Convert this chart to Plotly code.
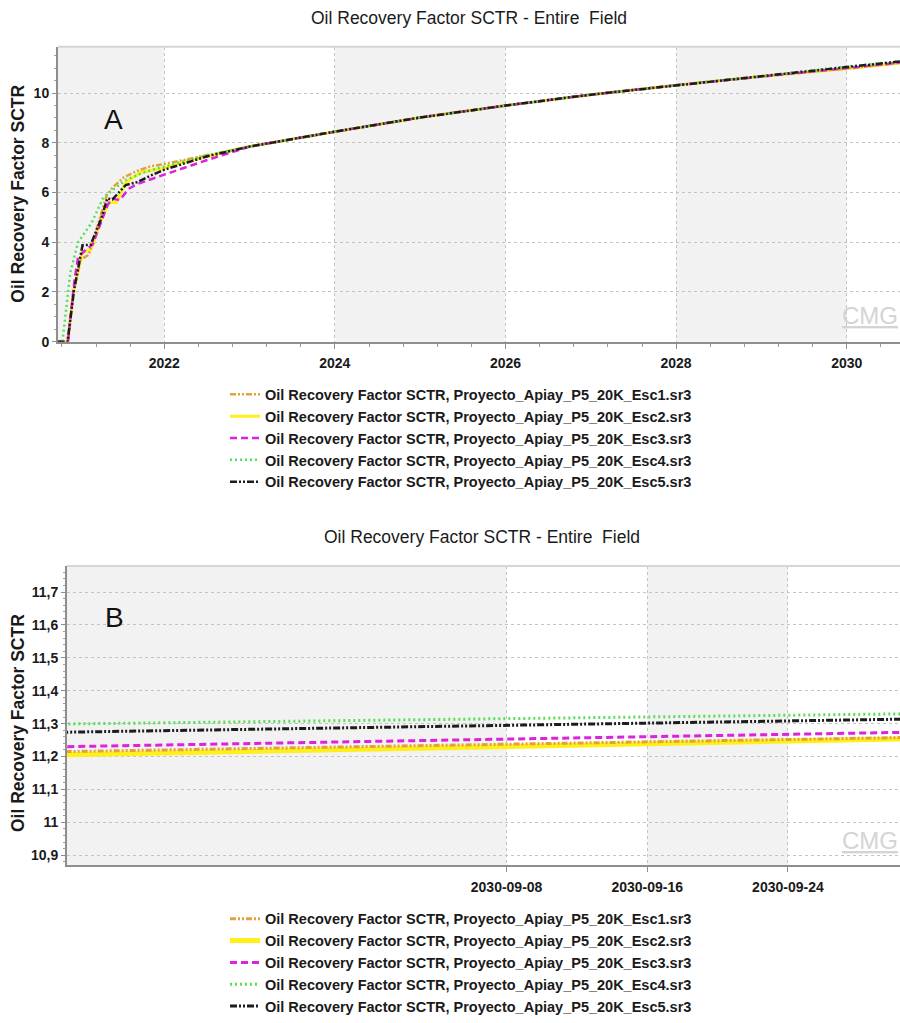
import plotly.graph_objects as go

W, H = 900, 1023

# ---- series data: Oil Recovery Factor SCTR (%), five scenarios ----
scenario_names = [
    "Oil Recovery Factor SCTR, Proyecto_Apiay_P5_20K_Esc1.sr3",
    "Oil Recovery Factor SCTR, Proyecto_Apiay_P5_20K_Esc2.sr3",
    "Oil Recovery Factor SCTR, Proyecto_Apiay_P5_20K_Esc3.sr3",
    "Oil Recovery Factor SCTR, Proyecto_Apiay_P5_20K_Esc4.sr3",
    "Oil Recovery Factor SCTR, Proyecto_Apiay_P5_20K_Esc5.sr3",
]

# start-up period (2020-2022), per scenario
esc1_early_dates = ["2020-10-01", "2020-11-12", "2020-12-08", "2021-01-08", "2021-02-12",
                    "2021-03-20", "2021-04-30", "2021-05-25", "2021-07-10", "2021-09-01",
                    "2021-11-01", "2022-01-01", "2022-07-01"]
esc1_early_vals = [0, 0, 2.0, 3.3, 3.5, 4.6, 5.9, 6.2, 6.6, 6.85, 7.05, 7.15, 7.5]

esc2_early_dates = ["2020-10-01", "2020-11-14", "2020-12-10", "2021-01-15", "2021-02-20",
                    "2021-03-01", "2021-04-10", "2021-05-10", "2021-06-10", "2021-07-20",
                    "2021-09-20", "2022-01-01", "2022-07-01"]
esc2_early_vals = [0, 0, 2.1, 3.6, 3.7, 3.9, 5.0, 5.6, 5.6, 6.4, 6.8, 7.0, 7.45]

esc3_early_dates = ["2020-10-01", "2020-11-15", "2020-12-13", "2020-12-28", "2021-02-05",
                    "2021-02-28", "2021-05-03", "2021-05-24", "2021-06-25", "2021-08-01",
                    "2021-09-10", "2021-12-15", "2022-01-01", "2022-07-01"]
esc3_early_vals = [0, 0, 2.5, 3.4, 3.75, 3.9, 5.5, 5.75, 5.7, 6.15, 6.35, 6.65, 6.72, 7.3]

esc4_early_dates = ["2020-10-01", "2020-10-22", "2020-11-25", "2020-12-28", "2021-02-25",
                    "2021-04-15", "2021-05-25", "2021-07-20", "2021-10-01", "2022-01-01",
                    "2022-07-01"]
esc4_early_vals = [0, 0, 2.8, 4.0, 4.8, 5.8, 6.1, 6.5, 6.8, 7.05, 7.5]

esc5_early_dates = ["2020-10-01", "2020-11-13", "2020-12-10", "2021-01-16", "2021-02-20",
                    "2021-04-04", "2021-05-02", "2021-05-24", "2021-06-20", "2021-07-20",
                    "2021-09-08", "2021-11-03", "2022-01-01", "2022-07-01"]
esc5_early_vals = [0, 0, 2.04, 3.88, 3.9, 4.9, 5.76, 5.72, 6.0, 6.3, 6.42, 6.68, 6.92, 7.45]

# common long-term trend (scenarios overlap)
tail_dates = ["2023-01-01", "2024-01-01", "2025-01-01", "2026-01-01",
              "2027-01-01", "2028-01-01", "2029-01-01"]
tail_vals = [7.85, 8.45, 9.02, 9.50, 9.94, 10.32, 10.68]

# end of forecast, per scenario
end_dates = ["2030-01-01", "2030-08-14", "2030-10-01"]
esc1_end_vals = [10.99, 11.215, 11.258]
esc2_end_vals = [10.98, 11.205, 11.254]
esc3_end_vals = [11.01, 11.230, 11.274]
esc4_end_vals = [11.07, 11.299, 11.330]
esc5_end_vals = [11.05, 11.274, 11.314]

# ---- styles ----
colors = ["#e3a13c", "#fff01a", "#dd22dd", "#55e055", "#1c1c1c"]
dashes = ["6px,2px,2px,2px,2px,2px", "solid", "7px,4px", "2px,3px", "7px,2px,2px,2px,2px,2px"]
width_top = [2.5, 3, 2.5, 2.5, 2.5]
width_bot = [3, 5, 3, 3, 3]

early = [(esc1_early_dates, esc1_early_vals), (esc2_early_dates, esc2_early_vals),
         (esc3_early_dates, esc3_early_vals), (esc4_early_dates, esc4_early_vals),
         (esc5_early_dates, esc5_early_vals)]
ends = [esc1_end_vals, esc2_end_vals, esc3_end_vals, esc4_end_vals, esc5_end_vals]

series = []
for (d, v), e in zip(early, ends):
    series.append((d + tail_dates + end_dates, v + tail_vals + e))

FONT = "Liberation Sans, Arial, sans-serif"
NARROW = "Liberation Sans Narrow, Liberation Sans, Arial, sans-serif"

fig = go.Figure()

# draw order: yellow band first so the dotted/dashed lines stay visible on top
draw_order = [1, 0, 2, 3, 4]
for panel, (xa, ya, leg, widths) in enumerate([("x", "y", "legend", width_top),
                                                ("x2", "y2", "legend2", width_bot)]):
    for i in draw_order:
        x, y = series[i]
        fig.add_trace(go.Scatter(
            x=x, y=y, mode="lines", name=scenario_names[i],
            xaxis=xa, yaxis=ya, legend=leg,
            legendgroup=f"p{panel}s{i}", legendrank=i + 1,
            line=dict(color=colors[i], width=widths[i], dash=dashes[i]),
            showlegend=True,
        ))


def px_x(p):
    return p / W


def px_y(p):
    return 1 - p / H


top_dom_y = [px_y(344), px_y(47)]
bot_dom_y = [px_y(871), px_y(570)]

tickfont = dict(family=FONT, size=14, color="#1a1a1a", weight="bold")
grid = dict(showgrid=True, gridcolor="#c4c4c4", griddash="dot", gridwidth=1)
axline = dict(showline=True, linecolor="#8e8e8e", linewidth=2, zeroline=False)

legend_font = dict(family=FONT, size=14.5, color="#1a1a1a", weight="bold")

fig.update_layout(
    width=W, height=H,
    margin=dict(l=0, r=0, t=0, b=0),
    paper_bgcolor="white", plot_bgcolor="white",
    separators=",.",
    showlegend=True,
    xaxis=dict(
        domain=[px_x(58), 1], anchor="y", type="date",
        range=["2020-10-03", "2030-08-17"],
        tickvals=["2022-01-01", "2024-01-01", "2026-01-01", "2028-01-01", "2030-01-01"],
        tickformat="%Y", ticks="outside", ticklen=5, tickcolor="#8e8e8e",
        ticklabelstandoff=3,
        minor=dict(ticks="outside", ticklen=3, tickcolor="#9a9a9a",
                   tick0="2022-01-01", dtick=146.1 * 86400000, showgrid=False),
        tickfont=tickfont, **grid, **axline,
    ),
    yaxis=dict(
        domain=top_dom_y, anchor="x", range=[0, 11.87],
        tick0=0, dtick=2, ticks="outside", ticklen=4, tickcolor="#8e8e8e",
        minor=dict(ticks="outside", ticklen=2, tickcolor="#a0a0a0", dtick=0.5, showgrid=False),
        tickfont=tickfont, **grid, **axline,
    ),
    xaxis2=dict(
        domain=[px_x(67), 1], anchor="y2", type="date",
        range=["2030-08-14", "2030-09-30 09:00"],
        tickvals=["2030-09-08", "2030-09-16", "2030-09-24"],
        tickformat="%Y-%m-%d", ticks="outside", ticklen=5, tickcolor="#8e8e8e",
        ticklabelstandoff=3,
        tickfont=tickfont, **grid, **axline,
    ),
    yaxis2=dict(
        domain=bot_dom_y, anchor="x2", range=[10.87, 11.779],
        tick0=10.9, dtick=0.1, ticks="outside", ticklen=4, tickcolor="#8e8e8e",
        minor=dict(ticks="outside", ticklen=2, tickcolor="#a0a0a0", dtick=0.02, showgrid=False),
        tickfont=tickfont, **grid, **axline,
    ),
    legend=dict(
        x=px_x(225), xanchor="left", y=px_y(381), yanchor="top",
        font=legend_font, tracegroupgap=6.5, bgcolor="rgba(0,0,0,0)",
        itemwidth=30, traceorder="normal",
    ),
    legend2=dict(
        x=px_x(225), xanchor="left", y=px_y(909), yanchor="top",
        font=legend_font, tracegroupgap=6.5, bgcolor="rgba(0,0,0,0)",
        itemwidth=30, traceorder="normal",
    ),
)

# alternating background bands between major gridlines
band = dict(type="rect", layer="below", fillcolor="#f2f2f2", line=dict(width=0))
for x0, x1 in [("2020-01-01", "2022-01-01"), ("2024-01-01", "2026-01-01"),
               ("2028-01-01", "2030-01-01")]:
    fig.add_shape(xref="x", yref="y domain", x0=x0, x1=x1, y0=0, y1=1, **band)
for x0, x1 in [("2030-08-01", "2030-09-08"), ("2030-09-16", "2030-09-24")]:
    fig.add_shape(xref="x2", yref="y2 domain", x0=x0, x1=x1, y0=0, y1=1, **band)

# light frame along the top of each plot area
for xr, yr in [("x domain", "y domain"), ("x2 domain", "y2 domain")]:
    fig.add_shape(type="line", xref=xr, yref=yr, x0=0, x1=1, y0=1, y1=1,
                  line=dict(color="#d6d6d6", width=2), layer="above")

title_font = dict(family=NARROW, size=17.5, color="#1a1a1a")
ylab_font = dict(family=FONT, size=17.5, color="#1a1a1a", weight="bold")
ann = [
    dict(text="Oil Recovery Factor SCTR - Entire  Field", x=px_x(469), y=px_y(18),
         font=title_font),
    dict(text="Oil Recovery Factor SCTR - Entire  Field", x=px_x(482), y=px_y(541),
         font=title_font),
    dict(text="Oil Recovery Factor SCTR", x=px_x(18), y=px_y(195), textangle=-90,
         font=ylab_font),
    dict(text="Oil Recovery Factor SCTR", x=px_x(18), y=px_y(728), textangle=-90,
         font=ylab_font),
    dict(text="A", x=px_x(113), y=px_y(120),
         font=dict(family=FONT, size=28, color="#111111")),
    dict(text="B", x=px_x(114), y=px_y(622),
         font=dict(family=FONT, size=28, color="#111111")),
    dict(text="<u>CMG</u>", x=1, y=px_y(318), xanchor="right",
         font=dict(family=NARROW, size=24, color="#d4d4d4")),
    dict(text="<u>CMG</u>", x=1, y=px_y(846), xanchor="right",
         font=dict(family=NARROW, size=24, color="#d4d4d4")),
]
for a in ann:
    a.setdefault("xanchor", "center")
    fig.add_annotation(xref="paper", yref="paper", showarrow=False, yanchor="middle", **a)

fig.write_html("out.html")
